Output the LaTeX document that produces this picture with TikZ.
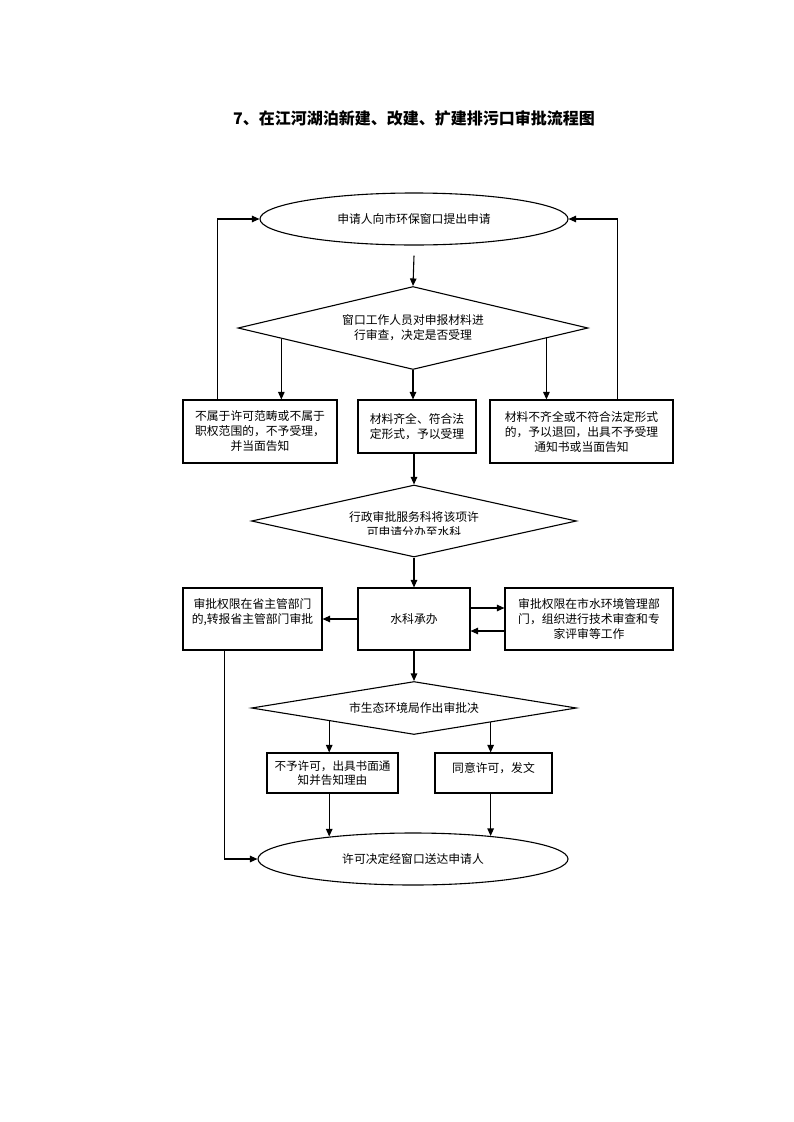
\documentclass[tikz,border=0pt]{standalone}
\usepackage{fontspec}
\setmainfont{Noto Sans CJK SC}
\usetikzlibrary{shapes.geometric,arrows.meta,calc}
\begin{document}
\begin{tikzpicture}[x=1pt,y=-1pt,
  every node/.style={font=\fontsize{11.8}{15}\selectfont, inner sep=0pt, align=center},
  ln/.style={line width=1.1pt},
  arr/.style={line width=1.1pt,-{Triangle[length=7.5pt,width=6.5pt]}},
  boxn/.style={draw,line width=1.1pt,rectangle},
  ovaln/.style={draw,line width=1.1pt,ellipse},
  dia/.style={draw,line width=1.1pt,diamond}]
\useasboundingbox (0,0) rectangle (793,1122);
\fill[white] (0,0) rectangle (793,1122);

\node[font=\fontsize{16}{20}\selectfont\bfseries] (title) at (414,118) {7、在江河湖泊新建、改建、扩建排污口审批流程图};

% row 1
\node[ovaln,minimum width=308pt,minimum height=52pt] (e1) at (414,219) {申请人向市环保窗口提出申请};
\node[dia,shape aspect=4.2,minimum width=350pt,minimum height=83pt] (d1) at (413,328) {窗口工作人员对申报材料进\\行审查，决定是否受理};
\node[boxn,minimum width=154pt,minimum height=63pt] (b1) at (260,431.5) {不属于许可范畴或不属于\\职权范围的，不予受理，\\并当面告知};
\node[boxn,minimum width=118pt,minimum height=53pt] (b2) at (417,426.5) {材料齐全、符合法\\定形式，予以受理};
\node[boxn,minimum width=183pt,minimum height=63pt] (b3) at (581.5,431.5) {材料不齐全或不符合法定形式\\的，予以退回，出具不予受理\\通知书或当面告知};

% row 2
\node[dia,shape aspect=4.5,minimum width=325pt,minimum height=72pt] (d2) at (414,521) {};
\begin{scope}
  \clip (250,490) rectangle (580,534);
  \node (d2t) at (414,524.5) {行政审批服务科将该项许\\可申请分办至水科};
\end{scope}
\node[boxn,minimum width=112pt,minimum height=62pt] (m) at (414,619) {水科承办};
\node[boxn,minimum width=139pt,minimum height=62pt,
  label={[yshift=6.5pt]center:审批权限在省主管部门\\的,转报省主管部门审批}] (l2) at (252.5,619) {};
\node[boxn,minimum width=168pt,minimum height=62pt] (r2) at (589,619) {审批权限在市水环境管理部\\门，组织进行技术审查和专\\家评审等工作};

% row 3
\node[dia,shape aspect=6.1,minimum width=325pt,minimum height=53pt] (d3) at (414,708) {市生态环境局作出审批决};
\node[boxn,minimum width=131pt,minimum height=40pt,font=\fontsize{11.6}{14}\selectfont] (b4) at (332.5,773) {不予许可，出具书面通\\知并告知理由};
\node[boxn,minimum width=117pt,minimum height=40pt,
  label={[yshift=5pt]center:同意许可，发文}] (b5) at (493.5,773) {};
\node[ovaln,minimum width=310pt,minimum height=52pt] (e2) at (413,859) {许可决定经窗口送达申请人};

% connectors
\draw[arr] ([yshift=-10pt]e1.south) -- (d1.north);
\coordinate (d1l) at ($(d1.west)!0.25!(d1.south)$);
\coordinate (d1r) at ($(d1.east)!0.24!(d1.south)$);
\draw[arr] (d1l) -- (d1l |- b1.north);
\draw[arr] (d1r) -- (d1r |- b3.north);
\draw[arr] (d1.south) -- (d1.south |- b2.north);
\coordinate (b1up) at ($(b1.north west)+(35,0)$);
\draw[arr] (b1up) |- (e1.west);
\coordinate (b3up) at ($(b3.north east)+(-56,0)$);
\draw[arr] (b3up) |- (e1.east);

\draw[arr] (b2.south -| d2.north) -- (d2.north);
\draw[arr] (d2.south) -- (m.north);
\draw[arr] (m.west) -- (l2.east);
\draw[arr] ([yshift=11pt]m.east) -- ([yshift=11pt]m.east -| r2.west);
\draw[arr] ([yshift=-12pt]r2.west) -- ([yshift=-12pt]r2.west -| m.east);
\coordinate (l2dn) at ($(l2.south west)+(42,0)$);
\draw[arr] (l2dn) |- (e2.west);

\draw[arr] (m.south) -- (d3.north);
\coordinate (d3l) at ($(d3.west)!0.48!(d3.south)$);
\coordinate (d3r) at ($(d3.east)!0.53!(d3.south)$);
\draw[arr] (d3l) -- (d3l |- b4.north);
\draw[arr] (d3r) -- (d3r |- b5.north);
\coordinate (b4dn) at (d3l |- b4.south);
\coordinate (b5dn) at (d3r |- b5.south);
\draw[arr] (b4dn) -- ($(b4dn |- e2.north)+(0,4)$);
\draw[arr] (b5dn) -- ($(b5dn |- e2.north)+(0,3.5)$);
\end{tikzpicture}
\end{document}
